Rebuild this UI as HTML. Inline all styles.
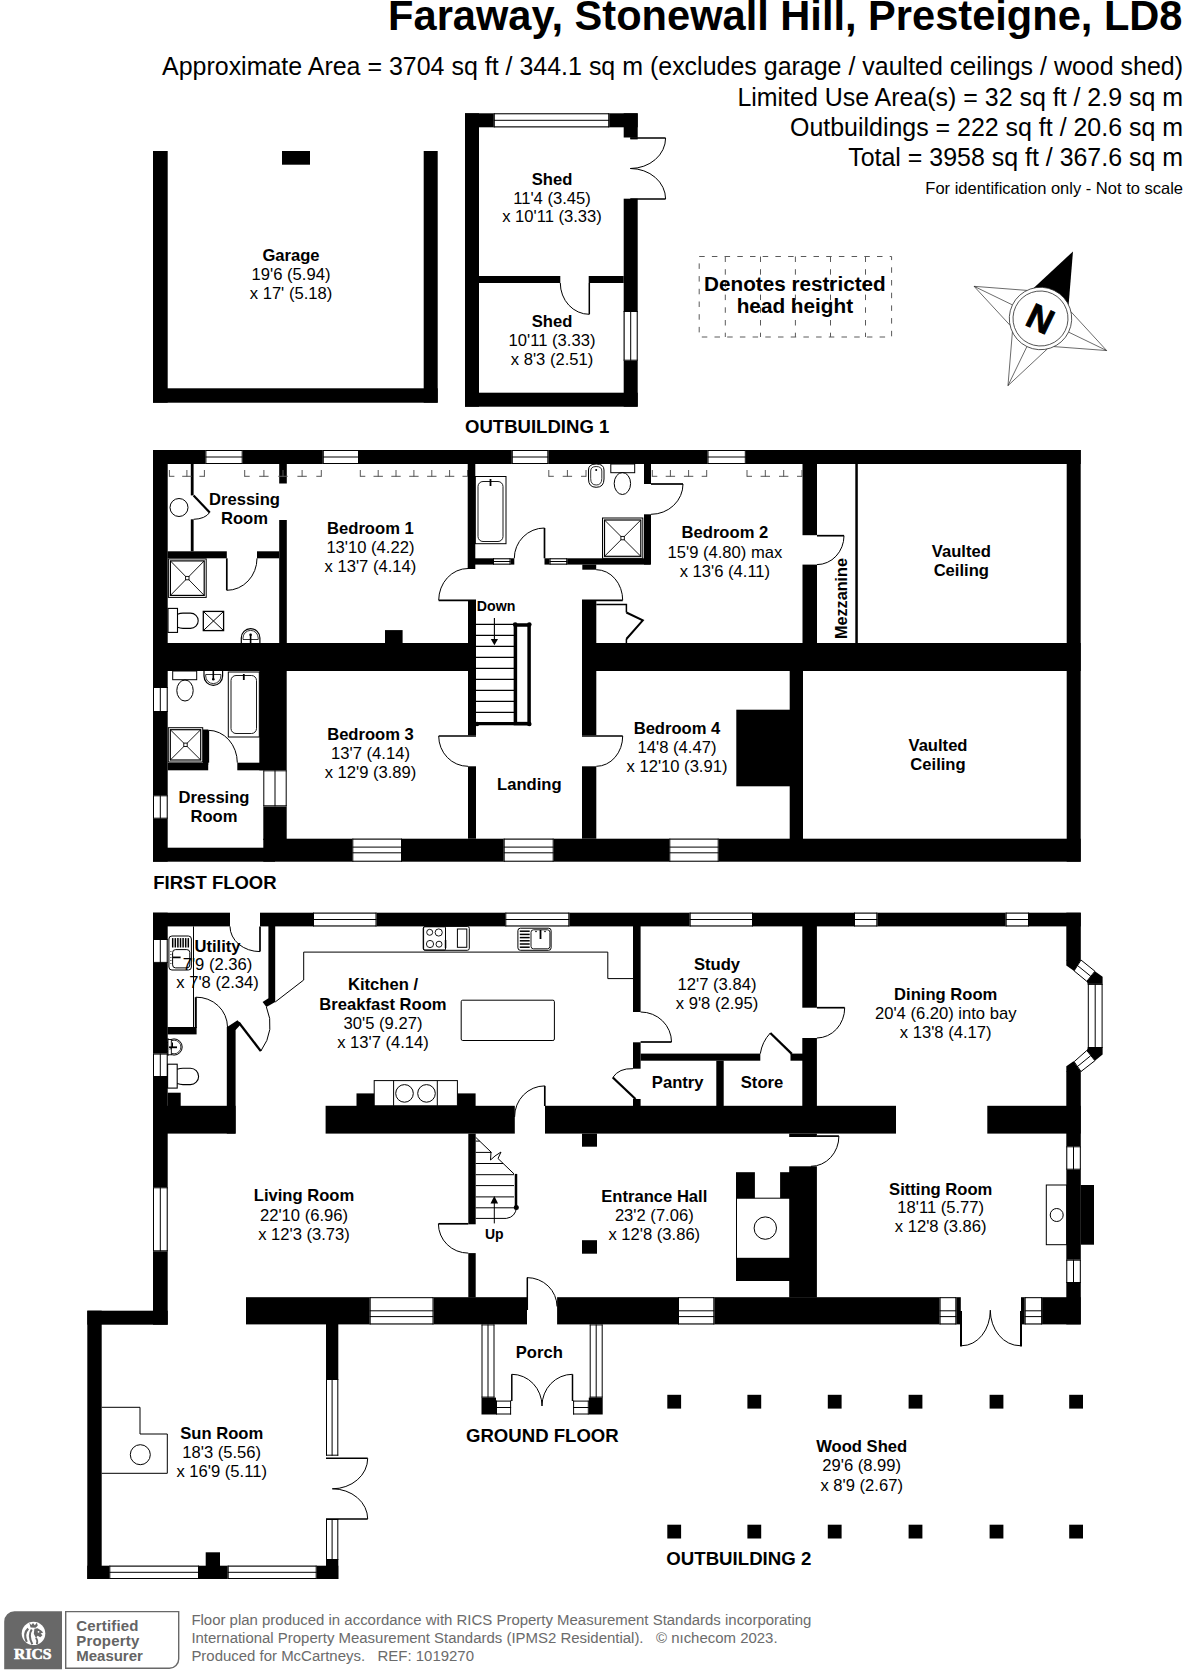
<!DOCTYPE html>
<html><head><meta charset="utf-8"><title>Floor plan</title>
<style>
html,body{margin:0;padding:0;background:#fff;}
svg{display:block;font-family:"Liberation Sans",sans-serif;}
</style></head><body>
<svg width="1191" height="1672" viewBox="0 0 1191 1672" shape-rendering="auto">
<rect width="1191" height="1672" fill="#fff"/>
<text x="1182.5" y="30.0" font-size="41.6" font-weight="bold" text-anchor="end" fill="#000">Faraway, Stonewall Hill, Presteigne, LD8</text>
<text x="1183.0" y="75.0" font-size="24.95" text-anchor="end" fill="#000" textLength="1021" lengthAdjust="spacingAndGlyphs">Approximate Area = 3704 sq ft / 344.1 sq m (excludes garage / vaulted ceilings / wood shed)</text>
<text x="1183.0" y="105.7" font-size="24.95" text-anchor="end" fill="#000">Limited Use Area(s) = 32 sq ft / 2.9 sq m</text>
<text x="1183.0" y="136.0" font-size="24.95" text-anchor="end" fill="#000">Outbuildings = 222 sq ft / 20.6 sq m</text>
<text x="1183.0" y="165.7" font-size="24.95" text-anchor="end" fill="#000">Total = 3958 sq ft / 367.6 sq m</text>
<text x="1183.0" y="194.3" font-size="16.5" text-anchor="end" fill="#000">For identification only - Not to scale</text>
<rect x="153.0" y="151.0" width="14.7" height="251.7" fill="#000"/>
<rect x="423.7" y="151.0" width="14.0" height="251.7" fill="#000"/>
<rect x="153.0" y="388.3" width="284.7" height="14.4" fill="#000"/>
<rect x="282.0" y="151.0" width="28.0" height="13.7" fill="#000"/>
<text x="291.0" y="261.0" font-size="16.6" font-weight="bold" text-anchor="middle" fill="#000">Garage</text>
<text x="291.0" y="280.0" font-size="16.6" text-anchor="middle" fill="#000">19'6 (5.94)</text>
<text x="291.0" y="299.0" font-size="16.6" text-anchor="middle" fill="#000">x 17' (5.18)</text>
<rect x="465.0" y="113.3" width="14.0" height="293.4" fill="#000"/>
<rect x="465.0" y="113.3" width="172.7" height="14.0" fill="#000"/>
<rect x="465.0" y="392.7" width="172.7" height="14.0" fill="#000"/>
<rect x="623.7" y="113.3" width="14.0" height="24.2" fill="#000"/>
<rect x="630.3" y="137.5" width="7.4" height="1.9" fill="#000"/>
<rect x="623.7" y="198.7" width="14.0" height="208.0" fill="#000"/>
<rect x="493.8" y="113.3" width="115.4" height="14.0" fill="#fff"/>
<line x1="493.8" y1="113.8" x2="609.2" y2="113.8" stroke="#000" stroke-width="1"/>
<line x1="493.8" y1="120.3" x2="609.2" y2="120.3" stroke="#000" stroke-width="1"/>
<line x1="493.8" y1="126.8" x2="609.2" y2="126.8" stroke="#000" stroke-width="1"/>
<line x1="494.3" y1="113.3" x2="494.3" y2="127.3" stroke="#000" stroke-width="1"/>
<line x1="608.7" y1="113.3" x2="608.7" y2="127.3" stroke="#000" stroke-width="1"/>
<rect x="623.7" y="311.0" width="14.0" height="49.7" fill="#fff"/>
<line x1="624.2" y1="311.0" x2="624.2" y2="360.7" stroke="#000" stroke-width="1"/>
<line x1="630.7" y1="311.0" x2="630.7" y2="360.7" stroke="#000" stroke-width="1"/>
<line x1="637.2" y1="311.0" x2="637.2" y2="360.7" stroke="#000" stroke-width="1"/>
<line x1="623.7" y1="311.5" x2="637.7" y2="311.5" stroke="#000" stroke-width="1"/>
<line x1="623.7" y1="360.2" x2="637.7" y2="360.2" stroke="#000" stroke-width="1"/>
<rect x="479.0" y="276.0" width="81.3" height="7.0" fill="#000"/>
<rect x="588.7" y="276.0" width="35.0" height="7.0" fill="#000"/>
<line x1="589.3" y1="283.0" x2="589.3" y2="314.3" stroke="#000" stroke-width="1.5"/>
<path d="M560.3,283 A29,31.3 0 0 0 589.3,314.3" stroke="#000" stroke-width="1" fill="none"/>
<line x1="630.3" y1="138.0" x2="665.6" y2="138.0" stroke="#000" stroke-width="1.5"/>
<line x1="630.3" y1="199.0" x2="665.6" y2="199.0" stroke="#000" stroke-width="1.5"/>
<path d="M665.6,138 A35.3,30.5 0 0 1 630.3,168.5" stroke="#000" stroke-width="1" fill="none"/>
<path d="M665.6,199 A35.3,30.5 0 0 0 630.3,168.5" stroke="#000" stroke-width="1" fill="none"/>
<text x="552.0" y="185.0" font-size="16.6" font-weight="bold" text-anchor="middle" fill="#000">Shed</text>
<text x="552.0" y="203.5" font-size="16.6" text-anchor="middle" fill="#000">11'4 (3.45)</text>
<text x="552.0" y="222.0" font-size="16.6" text-anchor="middle" fill="#000">x 10'11 (3.33)</text>
<text x="552.0" y="326.7" font-size="16.6" font-weight="bold" text-anchor="middle" fill="#000">Shed</text>
<text x="552.0" y="346.0" font-size="16.6" text-anchor="middle" fill="#000">10'11 (3.33)</text>
<text x="552.0" y="365.0" font-size="16.6" text-anchor="middle" fill="#000">x 8'3 (2.51)</text>
<text x="465.0" y="432.7" font-size="18.5" font-weight="bold" text-anchor="start" fill="#000" textLength="144.3" lengthAdjust="spacingAndGlyphs">OUTBUILDING 1</text>
<rect x="699.2" y="256.5" width="192.4" height="80.5" fill="none" stroke="#5a5a5a" stroke-width="1" stroke-dasharray="5.5,7.2"/>
<line x1="725.3" y1="256.5" x2="725.3" y2="337.0" stroke="#5a5a5a" stroke-width="1" stroke-dasharray="5.5,7.2"/>
<line x1="760.5" y1="256.5" x2="760.5" y2="337.0" stroke="#5a5a5a" stroke-width="1" stroke-dasharray="5.5,7.2"/>
<line x1="795.4" y1="256.5" x2="795.4" y2="337.0" stroke="#5a5a5a" stroke-width="1" stroke-dasharray="5.5,7.2"/>
<line x1="830.5" y1="256.5" x2="830.5" y2="337.0" stroke="#5a5a5a" stroke-width="1" stroke-dasharray="5.5,7.2"/>
<line x1="865.5" y1="256.5" x2="865.5" y2="337.0" stroke="#5a5a5a" stroke-width="1" stroke-dasharray="5.5,7.2"/>
<text x="704.1" y="290.5" font-size="20" font-weight="bold" text-anchor="start" fill="#000" textLength="181.6" lengthAdjust="spacingAndGlyphs">Denotes restricted</text>
<text x="736.7" y="313.4" font-size="20" font-weight="bold" text-anchor="start" fill="#000" textLength="116.4" lengthAdjust="spacingAndGlyphs">head height</text>
<g transform="translate(1040.5,318.5) rotate(25.85)">
<g transform="rotate(0)">
<polygon points="0,-74.5 -19.4,-24.4 19.4,-24.4" fill="#000"/>
</g>
<g transform="rotate(90)">
<path d="M-19.4,-24.4 L0,-73.5 L19.4,-24.4 M0,-73.5 L0,-31.2" fill="none" stroke="#222" stroke-width="0.6"/>
</g>
<g transform="rotate(180)">
<path d="M-19.4,-24.4 L0,-74.6 L19.4,-24.4 M0,-74.6 L0,-31.2" fill="none" stroke="#222" stroke-width="0.6"/>
</g>
<g transform="rotate(270)">
<path d="M-19.4,-24.4 L0,-73.8 L19.4,-24.4 M0,-73.8 L0,-31.2" fill="none" stroke="#222" stroke-width="0.6"/>
</g>
<circle r="31.2" fill="#fff" stroke="#222" stroke-width="0.7"/>
<circle r="27.5" fill="#fff" stroke="#222" stroke-width="0.7"/>
<text x="0" y="12.5" font-size="35" font-weight="bold" text-anchor="middle" fill="#000" stroke="#000" stroke-width="0.9">N</text>
</g>
<rect x="153.0" y="450.0" width="927.7" height="14.0" fill="#000"/>
<rect x="153.0" y="450.0" width="14.7" height="411.7" fill="#000"/>
<rect x="1066.7" y="450.0" width="14.0" height="411.7" fill="#000"/>
<rect x="153.0" y="847.7" width="122.0" height="14.0" fill="#000"/>
<rect x="263.3" y="838.7" width="817.4" height="23.0" fill="#000"/>
<rect x="153.0" y="643.0" width="315.0" height="28.0" fill="#000"/>
<rect x="582.0" y="643.0" width="498.7" height="28.0" fill="#000"/>
<rect x="205.4" y="450.0" width="37.3" height="14.0" fill="#fff"/>
<line x1="205.4" y1="450.5" x2="242.7" y2="450.5" stroke="#000" stroke-width="1"/>
<line x1="205.4" y1="457.0" x2="242.7" y2="457.0" stroke="#000" stroke-width="1"/>
<line x1="205.4" y1="463.5" x2="242.7" y2="463.5" stroke="#000" stroke-width="1"/>
<line x1="205.9" y1="450.0" x2="205.9" y2="464.0" stroke="#000" stroke-width="1"/>
<line x1="242.2" y1="450.0" x2="242.2" y2="464.0" stroke="#000" stroke-width="1"/>
<rect x="322.8" y="450.0" width="36.2" height="14.0" fill="#fff"/>
<line x1="322.8" y1="450.5" x2="359.0" y2="450.5" stroke="#000" stroke-width="1"/>
<line x1="322.8" y1="457.0" x2="359.0" y2="457.0" stroke="#000" stroke-width="1"/>
<line x1="322.8" y1="463.5" x2="359.0" y2="463.5" stroke="#000" stroke-width="1"/>
<line x1="323.3" y1="450.0" x2="323.3" y2="464.0" stroke="#000" stroke-width="1"/>
<line x1="358.5" y1="450.0" x2="358.5" y2="464.0" stroke="#000" stroke-width="1"/>
<rect x="511.8" y="450.0" width="36.5" height="14.0" fill="#fff"/>
<line x1="511.8" y1="450.5" x2="548.3" y2="450.5" stroke="#000" stroke-width="1"/>
<line x1="511.8" y1="457.0" x2="548.3" y2="457.0" stroke="#000" stroke-width="1"/>
<line x1="511.8" y1="463.5" x2="548.3" y2="463.5" stroke="#000" stroke-width="1"/>
<line x1="512.3" y1="450.0" x2="512.3" y2="464.0" stroke="#000" stroke-width="1"/>
<line x1="547.8" y1="450.0" x2="547.8" y2="464.0" stroke="#000" stroke-width="1"/>
<rect x="707.5" y="450.0" width="38.3" height="14.0" fill="#fff"/>
<line x1="707.5" y1="450.5" x2="745.8" y2="450.5" stroke="#000" stroke-width="1"/>
<line x1="707.5" y1="457.0" x2="745.8" y2="457.0" stroke="#000" stroke-width="1"/>
<line x1="707.5" y1="463.5" x2="745.8" y2="463.5" stroke="#000" stroke-width="1"/>
<line x1="708.0" y1="450.0" x2="708.0" y2="464.0" stroke="#000" stroke-width="1"/>
<line x1="745.3" y1="450.0" x2="745.3" y2="464.0" stroke="#000" stroke-width="1"/>
<rect x="153.0" y="687.0" width="14.7" height="25.0" fill="#fff"/>
<line x1="153.5" y1="687.0" x2="153.5" y2="712.0" stroke="#000" stroke-width="1"/>
<line x1="160.3" y1="687.0" x2="160.3" y2="712.0" stroke="#000" stroke-width="1"/>
<line x1="167.2" y1="687.0" x2="167.2" y2="712.0" stroke="#000" stroke-width="1"/>
<line x1="153.0" y1="687.5" x2="167.7" y2="687.5" stroke="#000" stroke-width="1"/>
<line x1="153.0" y1="711.5" x2="167.7" y2="711.5" stroke="#000" stroke-width="1"/>
<rect x="153.0" y="795.3" width="14.7" height="23.4" fill="#fff"/>
<line x1="153.5" y1="795.3" x2="153.5" y2="818.7" stroke="#000" stroke-width="1"/>
<line x1="160.3" y1="795.3" x2="160.3" y2="818.7" stroke="#000" stroke-width="1"/>
<line x1="167.2" y1="795.3" x2="167.2" y2="818.7" stroke="#000" stroke-width="1"/>
<line x1="153.0" y1="795.8" x2="167.7" y2="795.8" stroke="#000" stroke-width="1"/>
<line x1="153.0" y1="818.2" x2="167.7" y2="818.2" stroke="#000" stroke-width="1"/>
<rect x="352.3" y="838.7" width="49.7" height="23.0" fill="#fff"/>
<line x1="352.3" y1="839.2" x2="402.0" y2="839.2" stroke="#000" stroke-width="1"/>
<line x1="352.3" y1="847.1" x2="402.0" y2="847.1" stroke="#000" stroke-width="1"/>
<line x1="352.3" y1="852.8" x2="402.0" y2="852.8" stroke="#000" stroke-width="1"/>
<line x1="352.3" y1="861.2" x2="402.0" y2="861.2" stroke="#000" stroke-width="1"/>
<line x1="352.8" y1="838.7" x2="352.8" y2="861.7" stroke="#000" stroke-width="1"/>
<line x1="401.5" y1="838.7" x2="401.5" y2="861.7" stroke="#000" stroke-width="1"/>
<rect x="503.7" y="838.7" width="50.0" height="23.0" fill="#fff"/>
<line x1="503.7" y1="839.2" x2="553.7" y2="839.2" stroke="#000" stroke-width="1"/>
<line x1="503.7" y1="847.1" x2="553.7" y2="847.1" stroke="#000" stroke-width="1"/>
<line x1="503.7" y1="852.8" x2="553.7" y2="852.8" stroke="#000" stroke-width="1"/>
<line x1="503.7" y1="861.2" x2="553.7" y2="861.2" stroke="#000" stroke-width="1"/>
<line x1="504.2" y1="838.7" x2="504.2" y2="861.7" stroke="#000" stroke-width="1"/>
<line x1="553.2" y1="838.7" x2="553.2" y2="861.7" stroke="#000" stroke-width="1"/>
<rect x="669.3" y="838.7" width="49.4" height="23.0" fill="#fff"/>
<line x1="669.3" y1="839.2" x2="718.7" y2="839.2" stroke="#000" stroke-width="1"/>
<line x1="669.3" y1="847.1" x2="718.7" y2="847.1" stroke="#000" stroke-width="1"/>
<line x1="669.3" y1="852.8" x2="718.7" y2="852.8" stroke="#000" stroke-width="1"/>
<line x1="669.3" y1="861.2" x2="718.7" y2="861.2" stroke="#000" stroke-width="1"/>
<line x1="669.8" y1="838.7" x2="669.8" y2="861.7" stroke="#000" stroke-width="1"/>
<line x1="718.2" y1="838.7" x2="718.2" y2="861.7" stroke="#000" stroke-width="1"/>
<rect x="279.2" y="463.0" width="7.6" height="20.5" fill="#000"/>
<rect x="279.2" y="520.0" width="7.6" height="123.0" fill="#000"/>
<rect x="167.6" y="551.3" width="59.2" height="7.0" fill="#000"/>
<rect x="257.0" y="551.3" width="22.2" height="7.0" fill="#000"/>
<rect x="190.8" y="463.0" width="2.8" height="32.4" fill="#000"/>
<rect x="190.8" y="519.3" width="2.8" height="32.0" fill="#000"/>
<line x1="193.6" y1="495.4" x2="209.7" y2="512.5" stroke="#000" stroke-width="2.2"/>
<path d="M209.7,512.5 Q205,519 193.6,519.3" stroke="#000" stroke-width="1" fill="none"/>
<circle cx="179.0" cy="507.5" r="9.0" fill="none" stroke="#000" stroke-width="1"/>
<rect x="467.7" y="463.0" width="7.6" height="106.0" fill="#000"/>
<rect x="475.0" y="558.3" width="39.3" height="6.3" fill="#000"/>
<rect x="544.5" y="558.3" width="105.8" height="6.3" fill="#000"/>
<rect x="493.0" y="558.3" width="17.5" height="6.3" fill="#fff"/>
<line x1="493.0" y1="558.8" x2="510.5" y2="558.8" stroke="#000" stroke-width="1"/>
<line x1="493.0" y1="561.5" x2="510.5" y2="561.5" stroke="#000" stroke-width="1"/>
<line x1="493.0" y1="564.1" x2="510.5" y2="564.1" stroke="#000" stroke-width="1"/>
<line x1="493.5" y1="558.3" x2="493.5" y2="564.6" stroke="#000" stroke-width="1"/>
<line x1="510.0" y1="558.3" x2="510.0" y2="564.6" stroke="#000" stroke-width="1"/>
<rect x="549.6" y="558.3" width="17.6" height="6.3" fill="#fff"/>
<line x1="549.6" y1="558.8" x2="567.2" y2="558.8" stroke="#000" stroke-width="1"/>
<line x1="549.6" y1="561.5" x2="567.2" y2="561.5" stroke="#000" stroke-width="1"/>
<line x1="549.6" y1="564.1" x2="567.2" y2="564.1" stroke="#000" stroke-width="1"/>
<line x1="550.1" y1="558.3" x2="550.1" y2="564.6" stroke="#000" stroke-width="1"/>
<line x1="566.7" y1="558.3" x2="566.7" y2="564.6" stroke="#000" stroke-width="1"/>
<rect x="644.0" y="463.0" width="7.0" height="21.0" fill="#000"/>
<rect x="644.0" y="514.3" width="7.0" height="50.3" fill="#000"/>
<rect x="582.3" y="564.6" width="13.9" height="5.1" fill="#000"/>
<rect x="468.0" y="600.0" width="8.0" height="135.3" fill="#000"/>
<rect x="468.0" y="766.3" width="8.0" height="72.4" fill="#000"/>
<rect x="582.0" y="600.0" width="14.3" height="135.3" fill="#000"/>
<rect x="582.0" y="766.3" width="14.3" height="72.4" fill="#000"/>
<rect x="802.5" y="463.0" width="14.5" height="72.2" fill="#000"/>
<rect x="802.5" y="564.6" width="14.5" height="78.4" fill="#000"/>
<rect x="855.3" y="463.0" width="2.5" height="180.0" fill="#000"/>
<rect x="259.3" y="671.0" width="27.4" height="99.3" fill="#000"/>
<rect x="263.3" y="806.3" width="23.4" height="33.7" fill="#000"/>
<rect x="263.3" y="770.3" width="23.4" height="36.0" fill="#fff"/>
<line x1="263.8" y1="770.3" x2="263.8" y2="806.3" stroke="#000" stroke-width="1"/>
<line x1="275.0" y1="770.3" x2="275.0" y2="806.3" stroke="#000" stroke-width="1"/>
<line x1="286.2" y1="770.3" x2="286.2" y2="806.3" stroke="#000" stroke-width="1"/>
<line x1="263.3" y1="770.8" x2="286.7" y2="770.8" stroke="#000" stroke-width="1"/>
<line x1="263.3" y1="805.8" x2="286.7" y2="805.8" stroke="#000" stroke-width="1"/>
<rect x="167.7" y="762.7" width="40.5" height="7.6" fill="#000"/>
<rect x="237.3" y="762.7" width="26.0" height="7.6" fill="#000"/>
<rect x="203.0" y="729.5" width="5.2" height="35.5" fill="#000"/>
<rect x="789.7" y="671.0" width="13.3" height="169.0" fill="#000"/>
<rect x="736.3" y="709.7" width="53.7" height="76.6" fill="#000"/>
<rect x="385.0" y="630.1" width="17.6" height="12.9" fill="#000"/>
<line x1="226.8" y1="558.3" x2="226.8" y2="590.3" stroke="#000" stroke-width="1.7"/>
<path d="M226.8,590.3 A30.2,32 0 0 0 257,558.3" stroke="#000" stroke-width="1" fill="none"/>
<line x1="208.3" y1="730.3" x2="208.3" y2="762.7" stroke="#000" stroke-width="1.7"/>
<path d="M208.3,730.3 A29,32.4 0 0 1 237.3,762.7" stroke="#000" stroke-width="1" fill="none"/>
<line x1="544.5" y1="528.0" x2="544.5" y2="558.3" stroke="#000" stroke-width="1.7"/>
<path d="M544.5,528 A30.2,30.3 0 0 0 514.3,558.3" stroke="#000" stroke-width="1" fill="none"/>
<line x1="651.0" y1="484.0" x2="683.0" y2="484.0" stroke="#000" stroke-width="1.7"/>
<path d="M683,484 A32,30.3 0 0 1 651,514.3" stroke="#000" stroke-width="1" fill="none"/>
<line x1="438.7" y1="600.3" x2="476.0" y2="600.3" stroke="#000" stroke-width="1.7"/>
<path d="M438.7,600.3 A29.3,32 0 0 1 468,568.5" stroke="#000" stroke-width="1" fill="none"/>
<line x1="582.0" y1="600.3" x2="622.7" y2="600.3" stroke="#000" stroke-width="1.7"/>
<path d="M622.7,600.3 A26.5,30.6 0 0 0 596.2,569.7" stroke="#000" stroke-width="1" fill="none"/>
<line x1="438.7" y1="736.0" x2="476.0" y2="736.0" stroke="#000" stroke-width="1.7"/>
<path d="M438.7,736 A29.3,30.3 0 0 0 468,766.3" stroke="#000" stroke-width="1" fill="none"/>
<line x1="582.0" y1="736.0" x2="622.7" y2="736.0" stroke="#000" stroke-width="1.7"/>
<path d="M622.7,736 A26.4,30.3 0 0 1 596.3,766.3" stroke="#000" stroke-width="1" fill="none"/>
<line x1="817.0" y1="535.7" x2="844.0" y2="535.7" stroke="#000" stroke-width="1.7"/>
<path d="M844,535.7 A27,29 0 0 1 817,564.6" stroke="#000" stroke-width="1" fill="none"/>
<path d="M596.3,604.5 H626.4 V612.5 M626.4,639 V643" stroke="#000" stroke-width="1.5" fill="none"/>
<path d="M626.4,612.5 L642.8,620.3 L626.4,639" stroke="#000" stroke-width="2" fill="none"/>
<line x1="475.8" y1="624.4" x2="514.5" y2="624.4" stroke="#000" stroke-width="1.1"/>
<line x1="475.8" y1="635.4" x2="514.5" y2="635.4" stroke="#000" stroke-width="1.1"/>
<line x1="475.8" y1="646.4" x2="514.5" y2="646.4" stroke="#000" stroke-width="1.1"/>
<line x1="475.8" y1="657.4" x2="514.5" y2="657.4" stroke="#000" stroke-width="1.1"/>
<line x1="475.8" y1="668.4" x2="514.5" y2="668.4" stroke="#000" stroke-width="1.1"/>
<line x1="475.8" y1="679.4" x2="514.5" y2="679.4" stroke="#000" stroke-width="1.1"/>
<line x1="475.8" y1="690.4" x2="514.5" y2="690.4" stroke="#000" stroke-width="1.1"/>
<line x1="475.8" y1="701.4" x2="514.5" y2="701.4" stroke="#000" stroke-width="1.1"/>
<line x1="475.8" y1="712.4" x2="514.5" y2="712.4" stroke="#000" stroke-width="1.1"/>
<rect x="515.4" y="625.0" width="13.7" height="98.6" rx="0" fill="none" stroke="#000" stroke-width="3.5"/>
<line x1="475.8" y1="723.6" x2="530.8" y2="723.6" stroke="#000" stroke-width="3.4"/>
<circle cx="515.2" cy="624.6" r="2.3" fill="#000" stroke="#000" stroke-width="0"/>
<circle cx="529.3" cy="624.6" r="2.3" fill="#000" stroke="#000" stroke-width="0"/>
<circle cx="529.3" cy="724.0" r="2.3" fill="#000" stroke="#000" stroke-width="0"/>
<circle cx="477.0" cy="724.0" r="2.3" fill="#000" stroke="#000" stroke-width="0"/>
<text x="476.8" y="611.4" font-size="14" font-weight="bold" text-anchor="start" fill="#000" textLength="38.6" lengthAdjust="spacingAndGlyphs">Down</text>
<line x1="494.4" y1="618.1" x2="494.4" y2="640.0" stroke="#000" stroke-width="1.1"/>
<polygon points="490.8,639.0 498.0,639.0 494.4,645.2" fill="#000"/>
<line x1="169.4" y1="476.8" x2="169.4" y2="470.0" stroke="#555" stroke-width="1"/>
<line x1="169.4" y1="476.3" x2="174.4" y2="476.3" stroke="#555" stroke-width="1"/>
<line x1="186.9" y1="476.8" x2="186.9" y2="470.0" stroke="#555" stroke-width="1"/>
<line x1="182.2" y1="476.3" x2="191.6" y2="476.3" stroke="#555" stroke-width="1"/>
<line x1="204.4" y1="476.8" x2="204.4" y2="470.0" stroke="#555" stroke-width="1"/>
<line x1="199.4" y1="476.3" x2="204.4" y2="476.3" stroke="#555" stroke-width="1"/>
<line x1="244.7" y1="476.8" x2="244.7" y2="470.0" stroke="#555" stroke-width="1"/>
<line x1="244.7" y1="476.3" x2="249.7" y2="476.3" stroke="#555" stroke-width="1"/>
<line x1="263.9" y1="476.8" x2="263.9" y2="470.0" stroke="#555" stroke-width="1"/>
<line x1="259.2" y1="476.3" x2="268.6" y2="476.3" stroke="#555" stroke-width="1"/>
<line x1="283.0" y1="476.8" x2="283.0" y2="470.0" stroke="#555" stroke-width="1"/>
<line x1="278.3" y1="476.3" x2="287.7" y2="476.3" stroke="#555" stroke-width="1"/>
<line x1="302.1" y1="476.8" x2="302.1" y2="470.0" stroke="#555" stroke-width="1"/>
<line x1="297.4" y1="476.3" x2="306.8" y2="476.3" stroke="#555" stroke-width="1"/>
<line x1="321.3" y1="476.8" x2="321.3" y2="470.0" stroke="#555" stroke-width="1"/>
<line x1="316.3" y1="476.3" x2="321.3" y2="476.3" stroke="#555" stroke-width="1"/>
<line x1="360.3" y1="476.8" x2="360.3" y2="470.0" stroke="#555" stroke-width="1"/>
<line x1="360.3" y1="476.3" x2="365.3" y2="476.3" stroke="#555" stroke-width="1"/>
<line x1="378.2" y1="476.8" x2="378.2" y2="470.0" stroke="#555" stroke-width="1"/>
<line x1="373.5" y1="476.3" x2="382.9" y2="476.3" stroke="#555" stroke-width="1"/>
<line x1="396.0" y1="476.8" x2="396.0" y2="470.0" stroke="#555" stroke-width="1"/>
<line x1="391.3" y1="476.3" x2="400.7" y2="476.3" stroke="#555" stroke-width="1"/>
<line x1="413.9" y1="476.8" x2="413.9" y2="470.0" stroke="#555" stroke-width="1"/>
<line x1="409.2" y1="476.3" x2="418.6" y2="476.3" stroke="#555" stroke-width="1"/>
<line x1="431.8" y1="476.8" x2="431.8" y2="470.0" stroke="#555" stroke-width="1"/>
<line x1="427.1" y1="476.3" x2="436.5" y2="476.3" stroke="#555" stroke-width="1"/>
<line x1="449.6" y1="476.8" x2="449.6" y2="470.0" stroke="#555" stroke-width="1"/>
<line x1="444.9" y1="476.3" x2="454.3" y2="476.3" stroke="#555" stroke-width="1"/>
<line x1="467.5" y1="476.8" x2="467.5" y2="470.0" stroke="#555" stroke-width="1"/>
<line x1="462.5" y1="476.3" x2="467.5" y2="476.3" stroke="#555" stroke-width="1"/>
<line x1="548.8" y1="476.8" x2="548.8" y2="470.0" stroke="#555" stroke-width="1"/>
<line x1="548.8" y1="476.3" x2="553.8" y2="476.3" stroke="#555" stroke-width="1"/>
<line x1="567.4" y1="476.8" x2="567.4" y2="470.0" stroke="#555" stroke-width="1"/>
<line x1="562.7" y1="476.3" x2="572.1" y2="476.3" stroke="#555" stroke-width="1"/>
<line x1="586.0" y1="476.8" x2="586.0" y2="470.0" stroke="#555" stroke-width="1"/>
<line x1="581.0" y1="476.3" x2="586.0" y2="476.3" stroke="#555" stroke-width="1"/>
<line x1="652.3" y1="476.8" x2="652.3" y2="470.0" stroke="#555" stroke-width="1"/>
<line x1="652.3" y1="476.3" x2="657.3" y2="476.3" stroke="#555" stroke-width="1"/>
<line x1="670.4" y1="476.8" x2="670.4" y2="470.0" stroke="#555" stroke-width="1"/>
<line x1="665.7" y1="476.3" x2="675.1" y2="476.3" stroke="#555" stroke-width="1"/>
<line x1="688.6" y1="476.8" x2="688.6" y2="470.0" stroke="#555" stroke-width="1"/>
<line x1="683.9" y1="476.3" x2="693.3" y2="476.3" stroke="#555" stroke-width="1"/>
<line x1="706.7" y1="476.8" x2="706.7" y2="470.0" stroke="#555" stroke-width="1"/>
<line x1="701.7" y1="476.3" x2="706.7" y2="476.3" stroke="#555" stroke-width="1"/>
<line x1="747.0" y1="476.8" x2="747.0" y2="470.0" stroke="#555" stroke-width="1"/>
<line x1="747.0" y1="476.3" x2="752.0" y2="476.3" stroke="#555" stroke-width="1"/>
<line x1="765.3" y1="476.8" x2="765.3" y2="470.0" stroke="#555" stroke-width="1"/>
<line x1="760.6" y1="476.3" x2="770.0" y2="476.3" stroke="#555" stroke-width="1"/>
<line x1="783.7" y1="476.8" x2="783.7" y2="470.0" stroke="#555" stroke-width="1"/>
<line x1="779.0" y1="476.3" x2="788.4" y2="476.3" stroke="#555" stroke-width="1"/>
<line x1="802.0" y1="476.8" x2="802.0" y2="470.0" stroke="#555" stroke-width="1"/>
<line x1="797.0" y1="476.3" x2="802.0" y2="476.3" stroke="#555" stroke-width="1"/>
<rect x="168.4" y="558.9" width="37.8" height="38.5" rx="0" fill="none" stroke="#000" stroke-width="1"/>
<rect x="170.4" y="560.9" width="33.8" height="34.5" rx="0" fill="none" stroke="#000" stroke-width="1.2"/>
<line x1="170.4" y1="560.9" x2="204.2" y2="595.4" stroke="#000" stroke-width="0.9"/>
<line x1="170.4" y1="595.4" x2="204.2" y2="560.9" stroke="#000" stroke-width="0.9"/>
<rect x="185.6" y="576.4" width="3.4" height="3.4" fill="#fff" stroke="#000" stroke-width="0.9"/>
<rect x="168.3" y="727.7" width="34.4" height="34.3" rx="0" fill="none" stroke="#000" stroke-width="1"/>
<rect x="170.3" y="729.7" width="30.4" height="30.3" rx="0" fill="none" stroke="#000" stroke-width="1.2"/>
<line x1="170.3" y1="729.7" x2="200.7" y2="760.0" stroke="#000" stroke-width="0.9"/>
<line x1="170.3" y1="760.0" x2="200.7" y2="729.7" stroke="#000" stroke-width="0.9"/>
<rect x="183.8" y="743.1" width="3.4" height="3.4" fill="#fff" stroke="#000" stroke-width="0.9"/>
<rect x="602.5" y="518.0" width="40.3" height="40.3" rx="0" fill="none" stroke="#000" stroke-width="1"/>
<rect x="604.5" y="520.0" width="36.3" height="36.3" rx="0" fill="none" stroke="#000" stroke-width="1.2"/>
<line x1="604.5" y1="520.0" x2="640.8" y2="556.3" stroke="#000" stroke-width="0.9"/>
<line x1="604.5" y1="556.3" x2="640.8" y2="520.0" stroke="#000" stroke-width="0.9"/>
<rect x="620.9" y="536.4" width="3.4" height="3.4" fill="#fff" stroke="#000" stroke-width="0.9"/>
<rect x="168.0" y="608.4" width="9.5" height="24.0" rx="0" fill="none" stroke="#000" stroke-width="1.1"/>
<path d="M177.5,614.2 Q180,613.1 183,613.1 H190.5 A7.7,7.65 0 0 1 190.5,628.4 H183 Q180,628.4 177.5,627.3" stroke="#000" stroke-width="1.1" fill="none"/>
<rect x="203.3" y="611.4" width="20.3" height="19.2" rx="0" fill="none" stroke="#000" stroke-width="1.3"/>
<line x1="203.3" y1="611.4" x2="223.6" y2="630.6" stroke="#000" stroke-width="1"/>
<line x1="203.3" y1="630.6" x2="223.6" y2="611.4" stroke="#000" stroke-width="1"/>
<path d="M241.3,643 V637.9 A9.3,9.3 0 0 1 259.9,637.9 V643" stroke="#000" stroke-width="1.2" fill="none"/>
<path d="M243,639.5 V638 A7.6,7.6 0 0 1 258.2,638 V639.5 Z" stroke="#000" stroke-width="0.8" fill="none"/>
<circle cx="250.6" cy="634.8" r="1.3" fill="#000" stroke="#000" stroke-width="0"/>
<line x1="250.6" y1="634.8" x2="250.6" y2="643.0" stroke="#000" stroke-width="1.6"/>
<rect x="172.7" y="671.0" width="24.0" height="8.7" rx="0" fill="none" stroke="#000" stroke-width="1"/>
<ellipse cx="185.0" cy="690.5" rx="8.2" ry="10.5" fill="none" stroke="#000" stroke-width="1"/>
<path d="M204,671 V676 A9.3,9.3 0 0 0 222.6,676 V671" stroke="#000" stroke-width="1.2" fill="none"/>
<path d="M205.7,674.5 V676 A7.6,7.6 0 0 0 220.9,676 V674.5 Z" stroke="#000" stroke-width="0.8" fill="none"/>
<circle cx="213.3" cy="679.2" r="1.3" fill="#000" stroke="#000" stroke-width="0"/>
<line x1="213.3" y1="671.0" x2="213.3" y2="679.2" stroke="#000" stroke-width="1.6"/>
<rect x="228.3" y="672.0" width="31.0" height="65.0" rx="0" fill="none" stroke="#000" stroke-width="1"/>
<rect x="231.0" y="675.5" width="25.5" height="58.0" rx="5" fill="none" stroke="#000" stroke-width="0.9"/>
<line x1="243.8" y1="674.0" x2="243.8" y2="680.0" stroke="#000" stroke-width="1.8"/>
<rect x="475.3" y="476.5" width="30.7" height="67.2" rx="0" fill="none" stroke="#000" stroke-width="1"/>
<rect x="478.0" y="481.5" width="25.0" height="60.0" rx="5" fill="none" stroke="#000" stroke-width="0.9"/>
<line x1="490.5" y1="479.0" x2="490.5" y2="486.0" stroke="#000" stroke-width="1.8"/>
<path d="M588.5,470 Q588.5,464 596.2,464 Q604,464 604,470 V479 Q604,487.3 596.2,487.3 Q588.5,487.3 588.5,479 Z" stroke="#000" stroke-width="1" fill="none"/>
<path d="M590.7,471 Q590.7,466.5 596.2,466.5 Q601.8,466.5 601.8,471 V478.5 Q601.8,485 596.2,485 Q590.7,485 590.7,478.5 Z" stroke="#000" stroke-width="0.8" fill="none"/>
<circle cx="596.2" cy="470.0" r="1.0" fill="#000" stroke="#000" stroke-width="0"/>
<rect x="610.8" y="464.0" width="23.9" height="8.7" rx="0" fill="none" stroke="#000" stroke-width="1"/>
<ellipse cx="622.4" cy="483.5" rx="8.2" ry="11.0" fill="none" stroke="#000" stroke-width="1"/>
<text x="244.5" y="505.0" font-size="16.6" font-weight="bold" text-anchor="middle" fill="#000">Dressing</text>
<text x="244.5" y="523.5" font-size="16.6" font-weight="bold" text-anchor="middle" fill="#000">Room</text>
<text x="370.4" y="533.7" font-size="16.6" font-weight="bold" text-anchor="middle" fill="#000">Bedroom 1</text>
<text x="370.4" y="552.8" font-size="16.6" text-anchor="middle" fill="#000">13'10 (4.22)</text>
<text x="370.4" y="571.7" font-size="16.6" text-anchor="middle" fill="#000">x 13'7 (4.14)</text>
<text x="724.9" y="538.2" font-size="16.6" font-weight="bold" text-anchor="middle" fill="#000">Bedroom 2</text>
<text x="724.9" y="557.6" font-size="16.6" text-anchor="middle" fill="#000">15'9 (4.80) max</text>
<text x="724.9" y="576.5" font-size="16.6" text-anchor="middle" fill="#000">x 13'6 (4.11)</text>
<text x="961.3" y="557.0" font-size="16.6" font-weight="bold" text-anchor="middle" fill="#000">Vaulted</text>
<text x="961.3" y="576.0" font-size="16.6" font-weight="bold" text-anchor="middle" fill="#000">Ceiling</text>
<text x="938.0" y="751.3" font-size="16.6" font-weight="bold" text-anchor="middle" fill="#000">Vaulted</text>
<text x="938.0" y="770.3" font-size="16.6" font-weight="bold" text-anchor="middle" fill="#000">Ceiling</text>
<text x="370.5" y="740.0" font-size="16.6" font-weight="bold" text-anchor="middle" fill="#000">Bedroom 3</text>
<text x="370.5" y="759.0" font-size="16.6" text-anchor="middle" fill="#000">13'7 (4.14)</text>
<text x="370.5" y="778.0" font-size="16.6" text-anchor="middle" fill="#000">x 12'9 (3.89)</text>
<text x="677.0" y="734.3" font-size="16.6" font-weight="bold" text-anchor="middle" fill="#000">Bedroom 4</text>
<text x="677.0" y="753.3" font-size="16.6" text-anchor="middle" fill="#000">14'8 (4.47)</text>
<text x="677.0" y="772.3" font-size="16.6" text-anchor="middle" fill="#000">x 12'10 (3.91)</text>
<text x="529.3" y="789.7" font-size="16.6" font-weight="bold" text-anchor="middle" fill="#000">Landing</text>
<text x="214.0" y="803.0" font-size="16.6" font-weight="bold" text-anchor="middle" fill="#000">Dressing</text>
<text x="214.0" y="822.0" font-size="16.6" font-weight="bold" text-anchor="middle" fill="#000">Room</text>
<text transform="translate(846.5,598.5) rotate(-90)" font-size="16.2" font-weight="bold" text-anchor="middle" fill="#000">Mezzanine</text>
<text x="153.3" y="888.7" font-size="18.5" font-weight="bold" text-anchor="start" fill="#000">FIRST FLOOR</text>
<rect x="153.0" y="912.7" width="77.0" height="13.7" fill="#000"/>
<rect x="260.0" y="912.7" width="820.7" height="13.7" fill="#000"/>
<rect x="313.0" y="912.7" width="63.5" height="13.7" fill="#fff"/>
<line x1="313.0" y1="913.2" x2="376.5" y2="913.2" stroke="#000" stroke-width="1"/>
<line x1="313.0" y1="919.5" x2="376.5" y2="919.5" stroke="#000" stroke-width="1"/>
<line x1="313.0" y1="925.9" x2="376.5" y2="925.9" stroke="#000" stroke-width="1"/>
<line x1="313.5" y1="912.7" x2="313.5" y2="926.4" stroke="#000" stroke-width="1"/>
<line x1="376.0" y1="912.7" x2="376.0" y2="926.4" stroke="#000" stroke-width="1"/>
<rect x="505.3" y="912.7" width="64.0" height="13.7" fill="#fff"/>
<line x1="505.3" y1="913.2" x2="569.3" y2="913.2" stroke="#000" stroke-width="1"/>
<line x1="505.3" y1="919.5" x2="569.3" y2="919.5" stroke="#000" stroke-width="1"/>
<line x1="505.3" y1="925.9" x2="569.3" y2="925.9" stroke="#000" stroke-width="1"/>
<line x1="505.8" y1="912.7" x2="505.8" y2="926.4" stroke="#000" stroke-width="1"/>
<line x1="568.8" y1="912.7" x2="568.8" y2="926.4" stroke="#000" stroke-width="1"/>
<rect x="689.7" y="912.7" width="63.3" height="13.7" fill="#fff"/>
<line x1="689.7" y1="913.2" x2="753.0" y2="913.2" stroke="#000" stroke-width="1"/>
<line x1="689.7" y1="919.5" x2="753.0" y2="919.5" stroke="#000" stroke-width="1"/>
<line x1="689.7" y1="925.9" x2="753.0" y2="925.9" stroke="#000" stroke-width="1"/>
<line x1="690.2" y1="912.7" x2="690.2" y2="926.4" stroke="#000" stroke-width="1"/>
<line x1="752.5" y1="912.7" x2="752.5" y2="926.4" stroke="#000" stroke-width="1"/>
<rect x="854.0" y="912.7" width="23.3" height="13.7" fill="#fff"/>
<line x1="854.0" y1="913.2" x2="877.3" y2="913.2" stroke="#000" stroke-width="1"/>
<line x1="854.0" y1="919.5" x2="877.3" y2="919.5" stroke="#000" stroke-width="1"/>
<line x1="854.0" y1="925.9" x2="877.3" y2="925.9" stroke="#000" stroke-width="1"/>
<line x1="854.5" y1="912.7" x2="854.5" y2="926.4" stroke="#000" stroke-width="1"/>
<line x1="876.8" y1="912.7" x2="876.8" y2="926.4" stroke="#000" stroke-width="1"/>
<rect x="1005.7" y="912.7" width="23.3" height="13.7" fill="#fff"/>
<line x1="1005.7" y1="913.2" x2="1029.0" y2="913.2" stroke="#000" stroke-width="1"/>
<line x1="1005.7" y1="919.5" x2="1029.0" y2="919.5" stroke="#000" stroke-width="1"/>
<line x1="1005.7" y1="925.9" x2="1029.0" y2="925.9" stroke="#000" stroke-width="1"/>
<line x1="1006.2" y1="912.7" x2="1006.2" y2="926.4" stroke="#000" stroke-width="1"/>
<line x1="1028.5" y1="912.7" x2="1028.5" y2="926.4" stroke="#000" stroke-width="1"/>
<rect x="153.0" y="912.7" width="14.7" height="412.0" fill="#000"/>
<rect x="153.0" y="939.0" width="14.7" height="23.9" fill="#fff"/>
<line x1="153.5" y1="939.0" x2="153.5" y2="962.9" stroke="#000" stroke-width="1"/>
<line x1="160.3" y1="939.0" x2="160.3" y2="962.9" stroke="#000" stroke-width="1"/>
<line x1="167.2" y1="939.0" x2="167.2" y2="962.9" stroke="#000" stroke-width="1"/>
<line x1="153.0" y1="939.5" x2="167.7" y2="939.5" stroke="#000" stroke-width="1"/>
<line x1="153.0" y1="962.4" x2="167.7" y2="962.4" stroke="#000" stroke-width="1"/>
<rect x="153.0" y="1053.6" width="14.7" height="23.4" fill="#fff"/>
<line x1="153.5" y1="1053.6" x2="153.5" y2="1077.0" stroke="#000" stroke-width="1"/>
<line x1="160.3" y1="1053.6" x2="160.3" y2="1077.0" stroke="#000" stroke-width="1"/>
<line x1="167.2" y1="1053.6" x2="167.2" y2="1077.0" stroke="#000" stroke-width="1"/>
<line x1="153.0" y1="1054.1" x2="167.7" y2="1054.1" stroke="#000" stroke-width="1"/>
<line x1="153.0" y1="1076.5" x2="167.7" y2="1076.5" stroke="#000" stroke-width="1"/>
<rect x="153.0" y="1187.3" width="14.7" height="64.0" fill="#fff"/>
<line x1="153.5" y1="1187.3" x2="153.5" y2="1251.3" stroke="#000" stroke-width="1"/>
<line x1="160.3" y1="1187.3" x2="160.3" y2="1251.3" stroke="#000" stroke-width="1"/>
<line x1="167.2" y1="1187.3" x2="167.2" y2="1251.3" stroke="#000" stroke-width="1"/>
<line x1="153.0" y1="1187.8" x2="167.7" y2="1187.8" stroke="#000" stroke-width="1"/>
<line x1="153.0" y1="1250.8" x2="167.7" y2="1250.8" stroke="#000" stroke-width="1"/>
<rect x="268.4" y="926.0" width="6.8" height="76.0" fill="#000"/>
<polygon points="268.4,998.2 262.6,1002.0 266.4,1007.0 275.2,1002.0" fill="#000"/>
<rect x="226.8" y="1027.0" width="8.8" height="106.6" fill="#000"/>
<polygon points="226.8,1027.2 237.5,1020.2 241.1,1023.9 235.6,1029.9" fill="#000"/>
<rect x="167.6" y="1092.7" width="13.1" height="13.3" fill="#000"/>
<rect x="153.0" y="1105.8" width="82.6" height="27.8" fill="#000"/>
<rect x="325.6" y="1105.8" width="189.2" height="27.8" fill="#000"/>
<rect x="545.0" y="1105.8" width="351.0" height="27.8" fill="#000"/>
<rect x="987.3" y="1105.8" width="93.4" height="27.8" fill="#000"/>
<rect x="356.5" y="1093.4" width="17.7" height="12.6" fill="#000"/>
<rect x="457.4" y="1093.4" width="18.2" height="12.6" fill="#000"/>
<rect x="633.0" y="926.0" width="7.6" height="86.0" fill="#000"/>
<rect x="633.0" y="1042.3" width="7.6" height="26.4" fill="#000"/>
<rect x="633.0" y="1099.0" width="7.6" height="7.0" fill="#000"/>
<rect x="640.6" y="1053.6" width="119.7" height="7.1" fill="#000"/>
<rect x="790.5" y="1053.6" width="12.5" height="7.1" fill="#000"/>
<rect x="716.3" y="1060.7" width="7.4" height="45.3" fill="#000"/>
<rect x="802.3" y="926.0" width="14.6" height="81.7" fill="#000"/>
<rect x="802.3" y="1038.0" width="14.6" height="68.0" fill="#000"/>
<rect x="1066.3" y="912.7" width="14.5" height="47.8" fill="#000"/>
<rect x="1066.3" y="1071.0" width="14.5" height="253.4" fill="#000"/>
<polygon points="1066.3,960.0 1080.8,960.0 1074.1,970.9 1066.3,965.6" fill="#000"/>
<polygon points="1066.3,1071.5 1066.3,1066.2 1073.5,1061.2 1080.8,1071.6" fill="#000"/>
<rect x="1066.3" y="1146.3" width="14.5" height="23.4" fill="#fff"/>
<line x1="1066.8" y1="1146.3" x2="1066.8" y2="1169.7" stroke="#000" stroke-width="1"/>
<line x1="1073.5" y1="1146.3" x2="1073.5" y2="1169.7" stroke="#000" stroke-width="1"/>
<line x1="1080.3" y1="1146.3" x2="1080.3" y2="1169.7" stroke="#000" stroke-width="1"/>
<line x1="1066.3" y1="1146.8" x2="1080.8" y2="1146.8" stroke="#000" stroke-width="1"/>
<line x1="1066.3" y1="1169.2" x2="1080.8" y2="1169.2" stroke="#000" stroke-width="1"/>
<rect x="1066.3" y="1259.7" width="14.5" height="23.3" fill="#fff"/>
<line x1="1066.8" y1="1259.7" x2="1066.8" y2="1283.0" stroke="#000" stroke-width="1"/>
<line x1="1073.5" y1="1259.7" x2="1073.5" y2="1283.0" stroke="#000" stroke-width="1"/>
<line x1="1080.3" y1="1259.7" x2="1080.3" y2="1283.0" stroke="#000" stroke-width="1"/>
<line x1="1066.3" y1="1260.2" x2="1080.8" y2="1260.2" stroke="#000" stroke-width="1"/>
<line x1="1066.3" y1="1282.5" x2="1080.8" y2="1282.5" stroke="#000" stroke-width="1"/>
<rect x="1080.7" y="1185.0" width="13.3" height="59.7" fill="#000"/>
<polygon points="1086.8,981.3 1094.9,971.2 1102.6,976.8 1102.6,984.2 1087.8,984.2" fill="#000"/>
<polygon points="1087.8,1047.7 1102.6,1047.7 1102.6,1054.6 1094.9,1060.7 1086.8,1050.5" fill="#000"/>
<rect x="1087.8" y="983.9" width="14.8" height="64.1" fill="#fff"/>
<line x1="1088.3" y1="983.9" x2="1088.3" y2="1048.0" stroke="#000" stroke-width="1"/>
<line x1="1095.2" y1="983.9" x2="1095.2" y2="1048.0" stroke="#000" stroke-width="1"/>
<line x1="1102.1" y1="983.9" x2="1102.1" y2="1048.0" stroke="#000" stroke-width="1"/>
<line x1="1087.8" y1="984.4" x2="1102.6" y2="984.4" stroke="#000" stroke-width="1"/>
<line x1="1087.8" y1="1047.5" x2="1102.6" y2="1047.5" stroke="#000" stroke-width="1"/>
<path d="M1074.1,970.9 L1081,960 L1094.9,971.2 L1086.8,981.3 Z" stroke="#000" stroke-width="1" fill="#fff"/>
<line x1="1077.6" y1="965.6" x2="1090.8" y2="976.3" stroke="#000" stroke-width="1"/>
<path d="M1074.1,1061.7 L1081,1071.5 L1094.9,1060.7 L1086.8,1050.5 Z" stroke="#000" stroke-width="1" fill="#fff"/>
<line x1="1077.6" y1="1066.4" x2="1090.8" y2="1055.6" stroke="#000" stroke-width="1"/>
<rect x="789.2" y="1133.6" width="27.7" height="3.4" fill="#000"/>
<rect x="789.2" y="1166.3" width="27.7" height="131.2" fill="#000"/>
<rect x="736.0" y="1172.2" width="18.9" height="26.0" fill="#000"/>
<rect x="780.1" y="1172.2" width="9.9" height="26.0" fill="#000"/>
<rect x="736.0" y="1257.8" width="54.0" height="23.2" fill="#000"/>
<line x1="736.5" y1="1198.0" x2="736.5" y2="1258.0" stroke="#000" stroke-width="1"/>
<line x1="736.0" y1="1198.2" x2="790.0" y2="1198.2" stroke="#000" stroke-width="1"/>
<circle cx="765.3" cy="1228.1" r="11.2" fill="none" stroke="#000" stroke-width="1"/>
<rect x="468.3" y="1133.6" width="7.4" height="90.7" fill="#000"/>
<rect x="468.3" y="1253.1" width="7.4" height="44.4" fill="#000"/>
<rect x="582.0" y="1133.6" width="15.0" height="13.1" fill="#000"/>
<rect x="582.0" y="1240.2" width="15.0" height="13.5" fill="#000"/>
<rect x="246.0" y="1297.2" width="281.0" height="27.2" fill="#000"/>
<rect x="557.1" y="1297.2" width="403.7" height="27.2" fill="#000"/>
<rect x="1021.0" y="1297.2" width="59.7" height="27.2" fill="#000"/>
<rect x="369.7" y="1297.2" width="63.8" height="27.2" fill="#fff"/>
<line x1="369.7" y1="1297.7" x2="433.5" y2="1297.7" stroke="#000" stroke-width="1"/>
<line x1="369.7" y1="1310.8" x2="433.5" y2="1310.8" stroke="#000" stroke-width="1"/>
<line x1="369.7" y1="1316.6" x2="433.5" y2="1316.6" stroke="#000" stroke-width="1"/>
<line x1="369.7" y1="1323.9" x2="433.5" y2="1323.9" stroke="#000" stroke-width="1"/>
<line x1="370.2" y1="1297.2" x2="370.2" y2="1324.4" stroke="#000" stroke-width="1"/>
<line x1="433.0" y1="1297.2" x2="433.0" y2="1324.4" stroke="#000" stroke-width="1"/>
<rect x="678.0" y="1297.2" width="36.3" height="27.2" fill="#fff"/>
<line x1="678.0" y1="1297.7" x2="714.3" y2="1297.7" stroke="#000" stroke-width="1"/>
<line x1="678.0" y1="1310.8" x2="714.3" y2="1310.8" stroke="#000" stroke-width="1"/>
<line x1="678.0" y1="1316.6" x2="714.3" y2="1316.6" stroke="#000" stroke-width="1"/>
<line x1="678.0" y1="1323.9" x2="714.3" y2="1323.9" stroke="#000" stroke-width="1"/>
<line x1="678.5" y1="1297.2" x2="678.5" y2="1324.4" stroke="#000" stroke-width="1"/>
<line x1="713.8" y1="1297.2" x2="713.8" y2="1324.4" stroke="#000" stroke-width="1"/>
<rect x="939.6" y="1297.2" width="16.7" height="27.2" fill="#fff"/>
<line x1="939.6" y1="1297.7" x2="956.3" y2="1297.7" stroke="#000" stroke-width="1"/>
<line x1="939.6" y1="1310.8" x2="956.3" y2="1310.8" stroke="#000" stroke-width="1"/>
<line x1="939.6" y1="1316.6" x2="956.3" y2="1316.6" stroke="#000" stroke-width="1"/>
<line x1="939.6" y1="1323.9" x2="956.3" y2="1323.9" stroke="#000" stroke-width="1"/>
<line x1="940.1" y1="1297.2" x2="940.1" y2="1324.4" stroke="#000" stroke-width="1"/>
<line x1="955.8" y1="1297.2" x2="955.8" y2="1324.4" stroke="#000" stroke-width="1"/>
<rect x="1024.7" y="1297.2" width="17.4" height="27.2" fill="#fff"/>
<line x1="1024.7" y1="1297.7" x2="1042.1" y2="1297.7" stroke="#000" stroke-width="1"/>
<line x1="1024.7" y1="1310.8" x2="1042.1" y2="1310.8" stroke="#000" stroke-width="1"/>
<line x1="1024.7" y1="1316.6" x2="1042.1" y2="1316.6" stroke="#000" stroke-width="1"/>
<line x1="1024.7" y1="1323.9" x2="1042.1" y2="1323.9" stroke="#000" stroke-width="1"/>
<line x1="1025.2" y1="1297.2" x2="1025.2" y2="1324.4" stroke="#000" stroke-width="1"/>
<line x1="1041.6" y1="1297.2" x2="1041.6" y2="1324.4" stroke="#000" stroke-width="1"/>
<rect x="87.3" y="1310.7" width="80.4" height="14.0" fill="#000"/>
<rect x="87.3" y="1310.7" width="14.4" height="268.3" fill="#000"/>
<rect x="87.3" y="1565.7" width="251.0" height="13.3" fill="#000"/>
<rect x="109.3" y="1565.7" width="89.7" height="13.3" fill="#fff"/>
<line x1="109.3" y1="1566.2" x2="199.0" y2="1566.2" stroke="#000" stroke-width="1"/>
<line x1="109.3" y1="1572.3" x2="199.0" y2="1572.3" stroke="#000" stroke-width="1"/>
<line x1="109.3" y1="1578.5" x2="199.0" y2="1578.5" stroke="#000" stroke-width="1"/>
<line x1="109.8" y1="1565.7" x2="109.8" y2="1579.0" stroke="#000" stroke-width="1"/>
<line x1="198.5" y1="1565.7" x2="198.5" y2="1579.0" stroke="#000" stroke-width="1"/>
<rect x="227.7" y="1565.7" width="89.0" height="13.3" fill="#fff"/>
<line x1="227.7" y1="1566.2" x2="316.7" y2="1566.2" stroke="#000" stroke-width="1"/>
<line x1="227.7" y1="1572.3" x2="316.7" y2="1572.3" stroke="#000" stroke-width="1"/>
<line x1="227.7" y1="1578.5" x2="316.7" y2="1578.5" stroke="#000" stroke-width="1"/>
<line x1="228.2" y1="1565.7" x2="228.2" y2="1579.0" stroke="#000" stroke-width="1"/>
<line x1="316.2" y1="1565.7" x2="316.2" y2="1579.0" stroke="#000" stroke-width="1"/>
<rect x="205.7" y="1552.3" width="14.3" height="13.7" fill="#000"/>
<rect x="326.0" y="1324.0" width="12.3" height="55.0" fill="#000"/>
<rect x="326.0" y="1560.0" width="12.3" height="19.0" fill="#000"/>
<rect x="326.0" y="1379.0" width="12.3" height="76.7" fill="#fff"/>
<line x1="326.5" y1="1379.0" x2="326.5" y2="1455.7" stroke="#000" stroke-width="1"/>
<line x1="332.1" y1="1379.0" x2="332.1" y2="1455.7" stroke="#000" stroke-width="1"/>
<line x1="337.8" y1="1379.0" x2="337.8" y2="1455.7" stroke="#000" stroke-width="1"/>
<line x1="326.0" y1="1379.5" x2="338.3" y2="1379.5" stroke="#000" stroke-width="1"/>
<line x1="326.0" y1="1455.2" x2="338.3" y2="1455.2" stroke="#000" stroke-width="1"/>
<rect x="326.0" y="1519.0" width="12.3" height="41.0" fill="#fff"/>
<line x1="326.5" y1="1519.0" x2="326.5" y2="1560.0" stroke="#000" stroke-width="1"/>
<line x1="332.1" y1="1519.0" x2="332.1" y2="1560.0" stroke="#000" stroke-width="1"/>
<line x1="337.8" y1="1519.0" x2="337.8" y2="1560.0" stroke="#000" stroke-width="1"/>
<line x1="326.0" y1="1519.5" x2="338.3" y2="1519.5" stroke="#000" stroke-width="1"/>
<line x1="326.0" y1="1559.5" x2="338.3" y2="1559.5" stroke="#000" stroke-width="1"/>
<line x1="326.0" y1="1458.3" x2="367.7" y2="1458.3" stroke="#000" stroke-width="1.5"/>
<line x1="326.0" y1="1519.0" x2="367.7" y2="1519.0" stroke="#000" stroke-width="1.5"/>
<path d="M367.7,1458.3 A35.4,30.5 0 0 1 332.3,1488.8" stroke="#000" stroke-width="1" fill="none"/>
<path d="M367.7,1519 A35.4,30.2 0 0 0 332.3,1488.8" stroke="#000" stroke-width="1" fill="none"/>
<path d="M101.7,1407.3 H140 V1434 H167.3 V1473.3 H101.7" stroke="#000" stroke-width="1" fill="none"/>
<circle cx="140.3" cy="1454.7" r="10.0" fill="none" stroke="#000" stroke-width="1"/>
<rect x="481.5" y="1324.4" width="13.0" height="73.2" fill="#fff"/>
<line x1="482.0" y1="1324.4" x2="482.0" y2="1397.6" stroke="#000" stroke-width="1"/>
<line x1="488.0" y1="1324.4" x2="488.0" y2="1397.6" stroke="#000" stroke-width="1"/>
<line x1="494.0" y1="1324.4" x2="494.0" y2="1397.6" stroke="#000" stroke-width="1"/>
<line x1="481.5" y1="1324.9" x2="494.5" y2="1324.9" stroke="#000" stroke-width="1"/>
<line x1="481.5" y1="1397.1" x2="494.5" y2="1397.1" stroke="#000" stroke-width="1"/>
<rect x="589.7" y="1324.4" width="13.0" height="73.2" fill="#fff"/>
<line x1="590.2" y1="1324.4" x2="590.2" y2="1397.6" stroke="#000" stroke-width="1"/>
<line x1="596.2" y1="1324.4" x2="596.2" y2="1397.6" stroke="#000" stroke-width="1"/>
<line x1="602.2" y1="1324.4" x2="602.2" y2="1397.6" stroke="#000" stroke-width="1"/>
<line x1="589.7" y1="1324.9" x2="602.7" y2="1324.9" stroke="#000" stroke-width="1"/>
<line x1="589.7" y1="1397.1" x2="602.7" y2="1397.1" stroke="#000" stroke-width="1"/>
<rect x="481.5" y="1397.6" width="14.5" height="16.9" fill="#000"/>
<rect x="588.8" y="1397.6" width="13.9" height="16.9" fill="#000"/>
<rect x="496.0" y="1400.6" width="15.1" height="13.9" fill="#fff"/>
<line x1="496.0" y1="1401.1" x2="511.1" y2="1401.1" stroke="#000" stroke-width="1"/>
<line x1="496.0" y1="1407.5" x2="511.1" y2="1407.5" stroke="#000" stroke-width="1"/>
<line x1="496.0" y1="1414.0" x2="511.1" y2="1414.0" stroke="#000" stroke-width="1"/>
<line x1="496.5" y1="1400.6" x2="496.5" y2="1414.5" stroke="#000" stroke-width="1"/>
<line x1="510.6" y1="1400.6" x2="510.6" y2="1414.5" stroke="#000" stroke-width="1"/>
<rect x="573.1" y="1400.6" width="15.7" height="13.9" fill="#fff"/>
<line x1="573.1" y1="1401.1" x2="588.8" y2="1401.1" stroke="#000" stroke-width="1"/>
<line x1="573.1" y1="1407.5" x2="588.8" y2="1407.5" stroke="#000" stroke-width="1"/>
<line x1="573.1" y1="1414.0" x2="588.8" y2="1414.0" stroke="#000" stroke-width="1"/>
<line x1="573.6" y1="1400.6" x2="573.6" y2="1414.5" stroke="#000" stroke-width="1"/>
<line x1="588.3" y1="1400.6" x2="588.3" y2="1414.5" stroke="#000" stroke-width="1"/>
<line x1="511.8" y1="1374.3" x2="511.8" y2="1401.0" stroke="#000" stroke-width="1.5"/>
<line x1="572.5" y1="1374.3" x2="572.5" y2="1401.0" stroke="#000" stroke-width="1.5"/>
<path d="M511.8,1374.3 A30.2,31.7 0 0 1 542,1406" stroke="#000" stroke-width="1" fill="none"/>
<path d="M572.5,1374.3 A30.5,31.7 0 0 0 542,1406" stroke="#000" stroke-width="1" fill="none"/>
<rect x="667.3" y="1394.8" width="13.8" height="13.8" fill="#000"/>
<rect x="667.3" y="1524.7" width="13.8" height="13.8" fill="#000"/>
<rect x="747.4" y="1394.8" width="13.8" height="13.8" fill="#000"/>
<rect x="747.4" y="1524.7" width="13.8" height="13.8" fill="#000"/>
<rect x="827.8" y="1394.8" width="13.8" height="13.8" fill="#000"/>
<rect x="827.8" y="1524.7" width="13.8" height="13.8" fill="#000"/>
<rect x="908.6" y="1394.8" width="13.8" height="13.8" fill="#000"/>
<rect x="908.6" y="1524.7" width="13.8" height="13.8" fill="#000"/>
<rect x="989.6" y="1394.8" width="13.8" height="13.8" fill="#000"/>
<rect x="989.6" y="1524.7" width="13.8" height="13.8" fill="#000"/>
<rect x="1069.2" y="1394.8" width="13.8" height="13.8" fill="#000"/>
<rect x="1069.2" y="1524.7" width="13.8" height="13.8" fill="#000"/>
<line x1="260.0" y1="926.4" x2="260.0" y2="951.6" stroke="#000" stroke-width="1.7"/>
<path d="M230,926.4 A30,25.2 0 0 0 260,951.6" stroke="#000" stroke-width="1" fill="none"/>
<line x1="193.5" y1="926.4" x2="193.5" y2="1027.5" stroke="#000" stroke-width="1"/>
<line x1="195.8" y1="997.2" x2="195.8" y2="1028.0" stroke="#000" stroke-width="2"/>
<rect x="167.6" y="1027.0" width="29.0" height="7.4" fill="#000"/>
<path d="M195.8,997.2 A31,30 0 0 1 227.5,1027" stroke="#000" stroke-width="1" fill="none"/>
<line x1="238.8" y1="1022.5" x2="260.8" y2="1051.1" stroke="#000" stroke-width="2.3"/>
<path d="M260.8,1051.1 Q276,1030 266.4,1007" stroke="#000" stroke-width="1" fill="none"/>
<path d="M275.2,1002 L303.7,980 V952.1 H607.8 V978.6 H633" stroke="#000" stroke-width="1" fill="none"/>
<line x1="640.6" y1="1042.0" x2="671.5" y2="1042.0" stroke="#000" stroke-width="1.7"/>
<path d="M640.6,1012 A30.9,30 0 0 1 671.5,1042" stroke="#000" stroke-width="1" fill="none"/>
<line x1="612.8" y1="1077.5" x2="635.5" y2="1099.0" stroke="#000" stroke-width="2.3"/>
<path d="M612.8,1077.5 Q619,1068 633,1068.7" stroke="#000" stroke-width="1" fill="none"/>
<line x1="770.3" y1="1033.0" x2="791.8" y2="1053.8" stroke="#000" stroke-width="2.3"/>
<path d="M770.3,1033 Q762,1042 760.3,1053.7" stroke="#000" stroke-width="1" fill="none"/>
<line x1="816.9" y1="1007.7" x2="844.7" y2="1007.7" stroke="#000" stroke-width="1.7"/>
<path d="M844.7,1007.7 A28,30.3 0 0 1 816.9,1038" stroke="#000" stroke-width="1" fill="none"/>
<line x1="544.8" y1="1085.9" x2="544.8" y2="1106.0" stroke="#000" stroke-width="1.7"/>
<path d="M544.8,1085.9 A30.2,31 0 0 0 514.6,1117" stroke="#000" stroke-width="1" fill="none"/>
<line x1="438.4" y1="1223.8" x2="468.3" y2="1223.8" stroke="#000" stroke-width="1.7"/>
<path d="M438.4,1223.8 A29.9,29.3 0 0 0 468.3,1253.1" stroke="#000" stroke-width="1" fill="none"/>
<line x1="527.3" y1="1277.6" x2="527.3" y2="1310.0" stroke="#000" stroke-width="1.5"/>
<path d="M527,1277.6 A30,29 0 0 1 557,1306.5" stroke="#000" stroke-width="1" fill="none"/>
<line x1="816.9" y1="1136.1" x2="838.9" y2="1136.1" stroke="#000" stroke-width="1.7"/>
<path d="M838.9,1136.1 A28,30.2 0 0 1 810.9,1166.3" stroke="#000" stroke-width="1" fill="none"/>
<line x1="961.0" y1="1311.0" x2="961.0" y2="1346.5" stroke="#000" stroke-width="2"/>
<line x1="1021.0" y1="1311.0" x2="1021.0" y2="1346.5" stroke="#000" stroke-width="2"/>
<path d="M962,1345.7 A28.3,35.5 0 0 0 990.3,1310.2" stroke="#000" stroke-width="1" fill="none"/>
<path d="M1020,1345.7 A29.7,35.5 0 0 1 990.3,1310.2" stroke="#000" stroke-width="1" fill="none"/>
<rect x="1046.3" y="1185.0" width="20.4" height="59.7" rx="0" fill="none" stroke="#000" stroke-width="1"/>
<circle cx="1056.7" cy="1215.0" r="6.5" fill="none" stroke="#000" stroke-width="1"/>
<line x1="475.7" y1="1141.1" x2="479.7" y2="1141.1" stroke="#000" stroke-width="1"/>
<line x1="475.7" y1="1152.4" x2="491.5" y2="1152.4" stroke="#000" stroke-width="1"/>
<line x1="475.7" y1="1163.5" x2="503.1" y2="1163.5" stroke="#000" stroke-width="1"/>
<line x1="475.7" y1="1174.7" x2="514.0" y2="1174.7" stroke="#000" stroke-width="1"/>
<line x1="475.7" y1="1185.6" x2="514.0" y2="1185.6" stroke="#000" stroke-width="1"/>
<line x1="475.7" y1="1196.9" x2="514.0" y2="1196.9" stroke="#000" stroke-width="1"/>
<line x1="475.7" y1="1207.8" x2="514.0" y2="1207.8" stroke="#000" stroke-width="1"/>
<path d="M475.7,1137.3 L491,1152 L490.5,1160 L495,1156 L501,1152 L498,1158.5 L514,1173.9" stroke="#000" stroke-width="1" fill="none"/>
<line x1="516.0" y1="1173.9" x2="516.0" y2="1207.5" stroke="#000" stroke-width="2.5"/>
<circle cx="516.3" cy="1207.5" r="2.5" fill="#000" stroke="#000" stroke-width="0"/>
<path d="M475.7,1218.4 H506.4 Q515.5,1217 516.5,1207.5" stroke="#000" stroke-width="1" fill="none"/>
<line x1="494.3" y1="1223.4" x2="494.3" y2="1201.0" stroke="#000" stroke-width="1"/>
<polygon points="490.5,1203.5 498.1,1203.5 494.3,1196.0" fill="#000"/>
<text x="494.3" y="1239.4" font-size="14" font-weight="bold" text-anchor="middle" fill="#000">Up</text>
<rect x="168.9" y="936.0" width="22.5" height="34.0" rx="3" fill="none" stroke="#000" stroke-width="1"/>
<line x1="172.7" y1="938.1" x2="172.7" y2="947.5" stroke="#000" stroke-width="1.5"/>
<line x1="175.3" y1="938.1" x2="175.3" y2="947.5" stroke="#000" stroke-width="1.5"/>
<line x1="177.9" y1="938.1" x2="177.9" y2="947.5" stroke="#000" stroke-width="1.5"/>
<line x1="180.5" y1="938.1" x2="180.5" y2="947.5" stroke="#000" stroke-width="1.5"/>
<line x1="183.1" y1="938.1" x2="183.1" y2="947.5" stroke="#000" stroke-width="1.5"/>
<line x1="185.7" y1="938.1" x2="185.7" y2="947.5" stroke="#000" stroke-width="1.5"/>
<line x1="188.3" y1="938.1" x2="188.3" y2="947.5" stroke="#000" stroke-width="1.5"/>
<rect x="172.6" y="949.6" width="17.2" height="18.3" rx="3" fill="none" stroke="#000" stroke-width="1"/>
<line x1="173.0" y1="957.4" x2="180.6" y2="957.4" stroke="#000" stroke-width="1.7"/>
<circle cx="170.9" cy="951.5" r="0.6" fill="#000" stroke="#000" stroke-width="0"/>
<circle cx="170.9" cy="954.5" r="0.6" fill="#000" stroke="#000" stroke-width="0"/>
<circle cx="170.9" cy="957.5" r="0.6" fill="#000" stroke="#000" stroke-width="0"/>
<circle cx="170.9" cy="960.5" r="0.6" fill="#000" stroke="#000" stroke-width="0"/>
<circle cx="170.9" cy="963.5" r="0.6" fill="#000" stroke="#000" stroke-width="0"/>
<circle cx="174.1" cy="1047.0" r="8.1" fill="none" stroke="#000" stroke-width="1"/>
<circle cx="174.1" cy="1047.0" r="6.8" fill="none" stroke="#000" stroke-width="0.8"/>
<rect x="167.6" y="1038.0" width="0.8" height="18.0" fill="#000"/>
<rect x="168.0" y="1039.5" width="3.3" height="15.3" rx="0" fill="#fff" stroke="#000" stroke-width="0.9"/>
<line x1="169.0" y1="1047.3" x2="177.0" y2="1047.3" stroke="#000" stroke-width="1.8"/>
<line x1="172.5" y1="1042.5" x2="172.5" y2="1047.0" stroke="#000" stroke-width="1"/>
<line x1="170.0" y1="1049.5" x2="172.5" y2="1047.0" stroke="#000" stroke-width="0.9"/>
<rect x="167.6" y="1064.2" width="9.6" height="23.9" rx="0" fill="none" stroke="#000" stroke-width="1.1"/>
<path d="M177.2,1069.3 Q180,1068.2 183,1068.2 H190.4 A8.2,8.2 0 0 1 190.4,1084.6 H183 Q180,1084.6 177.2,1083.5" stroke="#000" stroke-width="1.1" fill="none"/>
<rect x="423.2" y="926.4" width="46.1" height="23.9" rx="2" fill="none" stroke="#000" stroke-width="1"/>
<rect x="423.6" y="926.8" width="21.9" height="23.2" rx="1" fill="none" stroke="#000" stroke-width="1"/>
<circle cx="429.7" cy="932.3" r="3.0" fill="none" stroke="#000" stroke-width="0.9"/>
<circle cx="438.7" cy="932.5" r="3.6" fill="none" stroke="#000" stroke-width="0.9"/>
<circle cx="430.0" cy="944.0" r="3.6" fill="none" stroke="#000" stroke-width="0.9"/>
<circle cx="439.0" cy="944.2" r="3.0" fill="none" stroke="#000" stroke-width="0.9"/>
<rect x="444.8" y="940.0" width="1.5" height="8.0" fill="#000"/>
<rect x="457.4" y="929.0" width="9.4" height="18.3" rx="0" fill="none" stroke="#000" stroke-width="1"/>
<rect x="517.9" y="928.2" width="33.2" height="22.1" rx="2.5" fill="none" stroke="#000" stroke-width="1"/>
<line x1="519.8" y1="931.2" x2="529.7" y2="931.2" stroke="#000" stroke-width="1.5"/>
<line x1="519.8" y1="934.4" x2="529.7" y2="934.4" stroke="#000" stroke-width="1.5"/>
<line x1="519.8" y1="937.6" x2="529.7" y2="937.6" stroke="#000" stroke-width="1.5"/>
<line x1="519.8" y1="940.8" x2="529.7" y2="940.8" stroke="#000" stroke-width="1.5"/>
<line x1="519.8" y1="944.0" x2="529.7" y2="944.0" stroke="#000" stroke-width="1.5"/>
<line x1="519.8" y1="947.2" x2="529.7" y2="947.2" stroke="#000" stroke-width="1.5"/>
<rect x="531.0" y="929.8" width="18.9" height="19.0" rx="2.5" fill="none" stroke="#000" stroke-width="0.9"/>
<line x1="540.5" y1="930.0" x2="540.5" y2="939.0" stroke="#000" stroke-width="1.8"/>
<circle cx="536.0" cy="931.5" r="0.8" fill="#000" stroke="#000" stroke-width="0"/>
<circle cx="545.0" cy="931.5" r="0.8" fill="#000" stroke="#000" stroke-width="0"/>
<rect x="461.2" y="1000.2" width="93.2" height="40.3" rx="1.5" fill="none" stroke="#000" stroke-width="1"/>
<rect x="374.2" y="1080.6" width="83.2" height="25.2" rx="0" fill="none" stroke="#000" stroke-width="1"/>
<line x1="393.6" y1="1080.6" x2="393.6" y2="1105.8" stroke="#000" stroke-width="1"/>
<line x1="437.3" y1="1080.6" x2="437.3" y2="1105.8" stroke="#000" stroke-width="1"/>
<circle cx="404.5" cy="1093.4" r="8.8" fill="none" stroke="#000" stroke-width="1"/>
<circle cx="426.5" cy="1093.4" r="8.8" fill="none" stroke="#000" stroke-width="1"/>
<text x="217.5" y="951.6" font-size="16.6" font-weight="bold" text-anchor="middle" fill="#000">Utility</text>
<text x="217.5" y="970.0" font-size="16.6" text-anchor="middle" fill="#000">7'9 (2.36)</text>
<text x="217.5" y="988.1" font-size="16.6" text-anchor="middle" fill="#000">x 7'8 (2.34)</text>
<text x="383.0" y="990.1" font-size="16.6" font-weight="bold" text-anchor="middle" fill="#000">Kitchen /</text>
<text x="383.0" y="1009.5" font-size="16.6" font-weight="bold" text-anchor="middle" fill="#000">Breakfast Room</text>
<text x="383.0" y="1029.0" font-size="16.6" text-anchor="middle" fill="#000">30'5 (9.27)</text>
<text x="383.0" y="1048.0" font-size="16.6" text-anchor="middle" fill="#000">x 13'7 (4.14)</text>
<text x="717.0" y="970.3" font-size="16.6" font-weight="bold" text-anchor="middle" fill="#000">Study</text>
<text x="717.0" y="989.7" font-size="16.6" text-anchor="middle" fill="#000">12'7 (3.84)</text>
<text x="717.0" y="1008.7" font-size="16.6" text-anchor="middle" fill="#000">x 9'8 (2.95)</text>
<text x="677.7" y="1087.7" font-size="16.6" font-weight="bold" text-anchor="middle" fill="#000">Pantry</text>
<text x="762.0" y="1087.7" font-size="16.6" font-weight="bold" text-anchor="middle" fill="#000">Store</text>
<text x="945.7" y="999.7" font-size="16.6" font-weight="bold" text-anchor="middle" fill="#000">Dining Room</text>
<text x="945.7" y="1018.7" font-size="16.6" text-anchor="middle" fill="#000">20'4 (6.20) into bay</text>
<text x="945.7" y="1038.0" font-size="16.6" text-anchor="middle" fill="#000">x 13'8 (4.17)</text>
<text x="304.0" y="1201.3" font-size="16.6" font-weight="bold" text-anchor="middle" fill="#000">Living Room</text>
<text x="304.0" y="1220.7" font-size="16.6" text-anchor="middle" fill="#000">22'10 (6.96)</text>
<text x="304.0" y="1239.5" font-size="16.6" text-anchor="middle" fill="#000">x 12'3 (3.73)</text>
<text x="654.3" y="1202.3" font-size="16.6" font-weight="bold" text-anchor="middle" fill="#000">Entrance Hall</text>
<text x="654.3" y="1221.3" font-size="16.6" text-anchor="middle" fill="#000">23'2 (7.06)</text>
<text x="654.3" y="1240.0" font-size="16.6" text-anchor="middle" fill="#000">x 12'8 (3.86)</text>
<text x="940.7" y="1194.7" font-size="16.6" font-weight="bold" text-anchor="middle" fill="#000">Sitting Room</text>
<text x="940.7" y="1213.3" font-size="16.6" text-anchor="middle" fill="#000">18'11 (5.77)</text>
<text x="940.7" y="1231.7" font-size="16.6" text-anchor="middle" fill="#000">x 12'8 (3.86)</text>
<text x="221.7" y="1439.0" font-size="16.6" font-weight="bold" text-anchor="middle" fill="#000">Sun Room</text>
<text x="221.7" y="1458.3" font-size="16.6" text-anchor="middle" fill="#000">18'3 (5.56)</text>
<text x="221.7" y="1477.3" font-size="16.6" text-anchor="middle" fill="#000">x 16'9 (5.11)</text>
<text x="539.3" y="1358.0" font-size="16.6" font-weight="bold" text-anchor="middle" fill="#000">Porch</text>
<text x="861.7" y="1452.3" font-size="16.6" font-weight="bold" text-anchor="middle" fill="#000">Wood Shed</text>
<text x="861.7" y="1471.3" font-size="16.6" text-anchor="middle" fill="#000">29'6 (8.99)</text>
<text x="861.7" y="1490.7" font-size="16.6" text-anchor="middle" fill="#000">x 8'9 (2.67)</text>
<text x="466.0" y="1442.3" font-size="18.5" font-weight="bold" text-anchor="start" fill="#000" textLength="152.7" lengthAdjust="spacingAndGlyphs">GROUND FLOOR</text>
<text x="666.3" y="1564.7" font-size="18.5" font-weight="bold" text-anchor="start" fill="#000" textLength="145" lengthAdjust="spacingAndGlyphs">OUTBUILDING 2</text>
<path d="M14.5,1611.2 H62 V1669.3 H4.2 V1621.5 A10.3,10.3 0 0 1 14.5,1611.2 Z" fill="#686868"/>
<path d="M65.7,1611.6 H178.7 V1659 A9.3,9.3 0 0 1 169.4,1668.3 H65.7 Z" fill="#fff" stroke="#686868" stroke-width="1.4"/>
<text x="76.3" y="1630.5" font-size="15" font-weight="bold" text-anchor="start" fill="#646464" textLength="62.2" lengthAdjust="spacing">Certified</text>
<text x="76.3" y="1645.7" font-size="15" font-weight="bold" text-anchor="start" fill="#646464" textLength="63" lengthAdjust="spacing">Property</text>
<text x="76.3" y="1660.8" font-size="15" font-weight="bold" text-anchor="start" fill="#646464" textLength="66.5" lengthAdjust="spacing">Measurer</text>
<text x="14.1" y="1658.9" font-size="14.6" font-weight="bold" fill="#fff" stroke="#fff" stroke-width="0.6" font-family="Liberation Serif, serif" textLength="37.5" lengthAdjust="spacingAndGlyphs">RICS</text>
<ellipse cx="33.5" cy="1633.4" rx="11.8" ry="11.7" fill="#fff"/>
<polygon points="29.28,1622.64 31.28,1625.11 33.04,1622.93 34.80,1625.28 36.92,1622.64 37.74,1625.87 35.57,1627.87 30.57,1627.52" fill="#686868"/>
<polygon points="34.39,1628.63 37.62,1628.34 41.15,1630.57 43.21,1632.57 40.56,1633.51 42.45,1635.28 40.27,1637.28 37.62,1635.69 35.86,1637.75 33.80,1633.63" fill="#686868"/>
<path d="M28.22,1628.63 Q22.93,1633.63 26.75,1641.86" fill="none" stroke="#686868" stroke-width="2.2"/>
<path d="M31.75,1629.52 Q27.63,1635.39 32.33,1644.21" fill="none" stroke="#686868" stroke-width="2"/>
<path d="M35.86,1637.75 Q38.21,1640.69 36.74,1644.21" fill="none" stroke="#686868" stroke-width="1.8"/>
<circle cx="38.51" cy="1631.87" r="0.9" fill="#fff"/>
<text x="191.4" y="1625.2" font-size="14.96" text-anchor="start" fill="#6b6b6b">Floor plan produced in accordance with RICS Property Measurement Standards incorporating</text>
<text x="191.4" y="1643.0" font-size="14.96" text-anchor="start" fill="#6b6b6b" xml:space="preserve">International Property Measurement Standards (IPMS2 Residential).   © nıchecom 2023.</text>
<text x="191.4" y="1661.1" font-size="14.96" text-anchor="start" fill="#6b6b6b" xml:space="preserve">Produced for McCartneys.   REF: 1019270</text>
</svg>
</body></html>
